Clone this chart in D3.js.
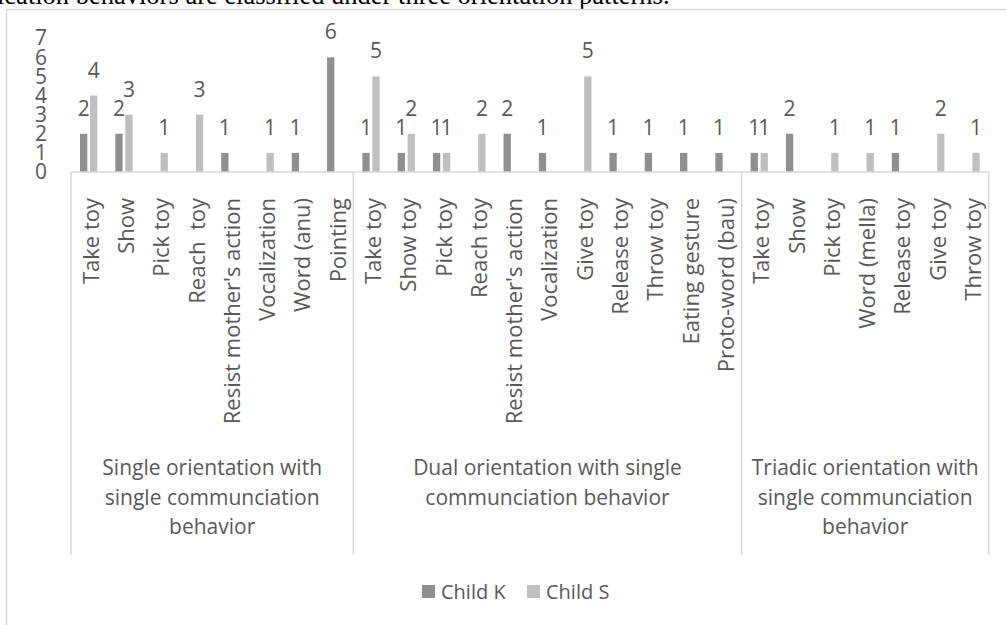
<!DOCTYPE html>
<html>
<head>
<meta charset="utf-8">
<script src="https://cdn.jsdelivr.net/npm/d3@7"></script>
<style>
  html, body { margin: 0; padding: 0; background: #fff; overflow: hidden; }
  svg { display: block; }
  text { font-family: "Open Sans", sans-serif; fill: #595959; }
</style>
</head>
<body>
<svg id="chart" width="1006" height="625"></svg>
<script>
// Behaviours observed for each orientation pattern
const singleBehaviors  = ["Take toy", "Show", "Pick toy", "Reach  toy", "Resist mother's action", "Vocalization", "Word (anu)", "Pointing"];
const dualBehaviors    = ["Take toy", "Show toy", "Pick toy", "Reach toy", "Resist mother's action", "Vocalization", "Give toy", "Release toy", "Throw toy", "Eating gesture", "Proto-word (bau)"];
const triadicBehaviors = ["Take toy", "Show", "Pick toy", "Word (mella)", "Release toy", "Give toy", "Throw toy"];

const groupLabels = [
  ["Single orientation with", "single communciation", "behavior"],
  ["Dual orientation with single", "communciation behavior"],
  ["Triadic orientation with", "single communciation", "behavior"]
];

// Counts per behaviour (null = not observed, no bar and no label)
const childK = [2, 2, null, null, 1, null, 1, 6,
                1, 1, 1, null, 2, 1, null, 1, 1, 1, 1,
                1, 2, null, null, 1, null, null];
const childS = [4, 3, 1, 3, null, 1, null, null,
                5, 2, 1, 2, null, null, 5, null, null, null, null,
                1, null, 1, 1, null, 2, 1];

const seriesNames = ["Child K", "Child S"];
const seriesColors = ["#8f8f8f", "#bfbfbf"];
const yTicks = [0, 1, 2, 3, 4, 5, 6, 7];

const groups = [singleBehaviors, dualBehaviors, triadicBehaviors];
const rows = [];
groups.forEach((list, g) => list.forEach(label => {
  const i = rows.length;
  rows.push({ key: g + "|" + i, label, group: g, values: [childK[i], childS[i]] });
}));

const svg = d3.select("#chart");

// Caption line from the surrounding document, clipped by the page top
svg.append("text")
  .attr("x", -3).attr("y", 4)
  .style("font-family", "'Liberation Serif', 'Times New Roman', serif")
  .style("font-size", "26.5px").style("fill", "#000")
  .text("ication behaviors are classified under three orientation patterns.");

// Chart frame
svg.append("rect")
  .attr("x", 6.5).attr("y", 9.5).attr("width", 1100).attr("height", 800)
  .attr("fill", "none").attr("stroke", "#d9d9d9").attr("stroke-width", 1.5);

const plotLeft = 71, plotRight = 988.7, baseY = 172, topY = 38.2, groupBottom = 555;

const x = d3.scaleBand().domain(rows.map(r => r.key)).range([plotLeft, plotRight]).padding(0);
const bw = x.bandwidth();
const xs = d3.scaleBand().domain(seriesNames)
  .range([bw * 0.255, bw * 0.745]).paddingInner(0.27);
const y = d3.scaleLinear().domain([0, 7]).range([baseY, topY]);

// Value axis labels
const yAxis = svg.append("g")
  .attr("transform", "translate(47,0)")
  .call(d3.axisLeft(y).tickValues(yTicks).tickFormat(d3.format("d")).tickSize(0).tickPadding(0));
yAxis.select(".domain").remove();
yAxis.selectAll("text")
  .style("font-family", "'Open Sans', sans-serif")
  .style("font-size", "21px").style("fill", "#595959");

// Bars
const cat = svg.append("g").selectAll("g").data(rows).join("g")
  .attr("transform", d => `translate(${x(d.key)},0)`);

cat.selectAll("rect")
  .data(d => d.values.map((v, s) => ({ v, s })).filter(e => e.v != null))
  .join("rect")
  .attr("x", e => xs(seriesNames[e.s]))
  .attr("width", xs.bandwidth())
  .attr("y", e => y(e.v))
  .attr("height", e => baseY - y(e.v))
  .attr("fill", e => seriesColors[e.s]);

// Data labels
cat.selectAll("text.val")
  .data(d => d.values.map((v, s) => ({ v, s })).filter(e => e.v != null))
  .join("text")
  .attr("class", "val")
  .attr("x", e => xs(seriesNames[e.s]) + xs.bandwidth() / 2)
  .attr("y", e => y(e.v) - 18)
  .attr("text-anchor", "middle")
  .style("font-size", "21px")
  .text(e => e.v);

// Category axis: baseline and group separators
const grid = svg.append("g").attr("stroke", "#d9d9d9").attr("stroke-width", 1.5);
grid.append("line")
  .attr("x1", plotLeft).attr("x2", plotRight)
  .attr("y1", baseY).attr("y2", baseY);

const groupEdges = [];
let start = 0;
groups.forEach((list, g) => {
  const first = rows[start].key, last = rows[start + list.length - 1].key;
  groupEdges.push([x(first), x(last) + bw]);
  start += list.length;
});
const bounds = [groupEdges[0][0], ...groupEdges.map(e => e[1])];
grid.selectAll("line.sep").data(bounds).join("line")
  .attr("class", "sep")
  .attr("x1", d => d).attr("x2", d => d)
  .attr("y1", baseY).attr("y2", groupBottom);

// Rotated behaviour labels
const xAxis = svg.append("g")
  .attr("transform", `translate(0,${baseY})`)
  .call(d3.axisBottom(x).tickSize(0).tickFormat(k => rows.find(r => r.key === k).label));
xAxis.select(".domain").remove();
xAxis.selectAll("text")
  .style("font-family", "'Open Sans', sans-serif")
  .style("font-size", "22px").style("fill", "#595959")
  .style("white-space", "pre")
  .attr("text-anchor", "end")
  .attr("dominant-baseline", "central")
  .attr("transform", "rotate(-90)")
  .attr("x", -26).attr("y", 1).attr("dy", null);

// Group labels
svg.append("g").selectAll("text").data(groupLabels).join("text")
  .attr("text-anchor", "middle")
  .attr("x", (d, i) => (groupEdges[i][0] + groupEdges[i][1]) / 2)
  .attr("y", 475)
  .style("font-size", "21px")
  .selectAll("tspan").data(d => d).join("tspan")
  .attr("x", function () { return this.parentNode.getAttribute("x"); })
  .attr("dy", (d, i) => i === 0 ? 0 : 29.5)
  .text(d => d);

// Legend
const legendItems = [
  { name: seriesNames[0], color: seriesColors[0], x: 422 },
  { name: seriesNames[1], color: seriesColors[1], x: 527 }
];
const leg = svg.append("g").selectAll("g").data(legendItems).join("g")
  .attr("transform", d => `translate(${d.x},585)`);
leg.append("rect").attr("width", 13).attr("height", 13).attr("fill", d => d.color);
leg.append("text").attr("x", 19).attr("y", 13.5)
  .style("font-size", "20px").text(d => d.name);
</script>
</body>
</html>
